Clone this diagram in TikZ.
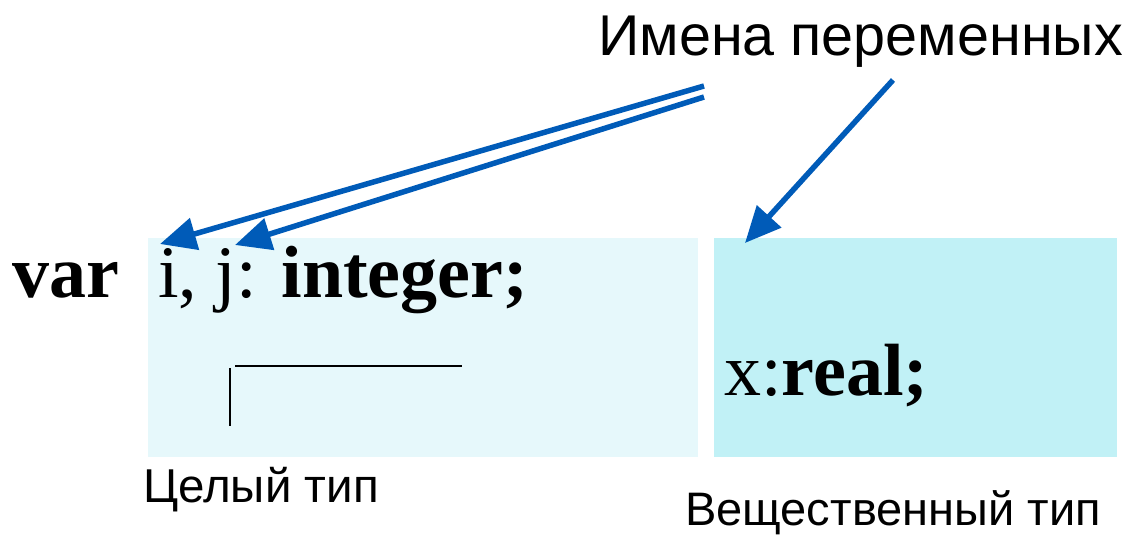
\documentclass[tikz,border=0pt]{standalone}
\usepackage{fontspec}
\setmainfont{Liberation Serif}
\newfontfamily\arialf{Liberation Sans}
\usetikzlibrary{arrows.meta}
\definecolor{arrowblue}{RGB}{0,91,184}
\definecolor{boxA}{RGB}{230,248,251}
\definecolor{boxB}{RGB}{193,241,246}
\tikzset{
  code/.style={inner sep=0pt, anchor=base west, font=\fontsize{74}{80}\selectfont},
  label/.style={inner sep=0pt, anchor=base west},
  bluearrow/.style={draw=arrowblue, line width=5.5pt, -{Triangle[length=36pt,width=32pt]}, shorten >=0pt},
  mark line/.style={draw=black, line width=1.8pt}
}
\begin{document}
\begin{tikzpicture}[x=1pt,y=-1pt]
\useasboundingbox (0,0) rectangle (1137,535);
% boxes
\fill[boxA] (148,238) rectangle (698,457);
\fill[boxB] (714,238) rectangle (1117,457);
% texts
\node[code] (var) at (12,297) {\textbf{var}};
\node[code] (ij) at (158,297) {i, j: \textbf{integer;}};
\node[code] (xr) at (724,395) {x:\textbf{real;}};
\node[label, font=\arialf\fontsize{57.5}{64}\selectfont] (names) at (598,56) {Имена переменных};
\node[label, font=\arialf\fontsize{47.5}{52}\selectfont] (int) at (143,502) {Целый тип};
\node[label, font=\arialf\fontsize{47}{52}\selectfont] (real) at (685,525) {Вещественный тип};
% marker lines
\coordinate (h1) at (235,366);
\coordinate (h2) at (462,366);
\coordinate (v1) at (230,368);
\coordinate (v2) at (230,426);
\draw[mark line] (h1) -- (h2);
\draw[mark line] (v1) -- (v2);
% arrows
\coordinate (s1) at (704,86);
\coordinate (s2) at (704,97);
\coordinate (s3) at (893,80);
\coordinate (e1) at (160,244);
\coordinate (e2) at (235,245);
\coordinate (e3) at (745,243);
\draw[bluearrow] (s1) -- (e1);
\draw[bluearrow] (s2) -- (e2);
\draw[bluearrow] (s3) -- (e3);
\end{tikzpicture}
\end{document}
